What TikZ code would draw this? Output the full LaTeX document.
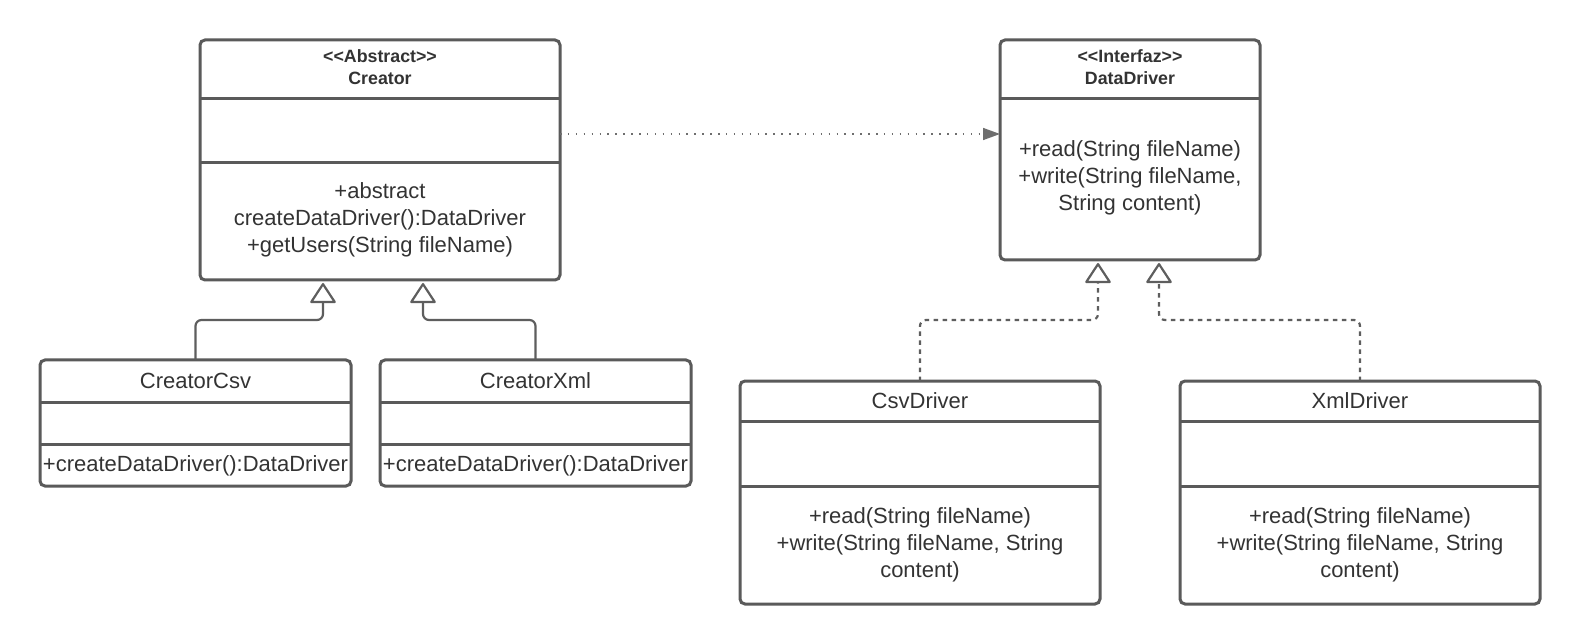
\documentclass[tikz,border=0pt]{standalone}
\usepackage{fontspec}
\setmainfont{Liberation Sans}
\usetikzlibrary{arrows.meta}
\definecolor{boxline}{HTML}{5A5A5A}
\definecolor{txt}{HTML}{333333}
\definecolor{conn}{HTML}{5E5E5E}
\definecolor{dotc}{HTML}{6E6E6E}
\begin{document}
\begin{tikzpicture}[x=1pt,y=-1pt,
  umlbox/.style={rectangle, draw=boxline, line width=3pt, rounded corners=5pt, inner sep=0pt, outer sep=0pt},
  sepline/.style={draw=boxline, line width=3pt},
  hdr/.style={font=\bfseries\fontsize{17.8}{22}\selectfont, text=txt, align=center, inner sep=0pt},
  body/.style={font=\fontsize{22}{27}\selectfont, text=txt, align=center, inner sep=0pt},
  gen/.style={draw=conn, line width=2.2pt, rounded corners=6pt, -{Triangle[open, length=21pt, width=27pt, round]}},
  realz/.style={gen, dash pattern=on 4.5pt off 4.5pt},
  dep/.style={draw=dotc, line width=1.5pt, dash pattern=on 1.5pt off 6.4pt, -{Triangle[length=17pt, width=12pt]}}
]
\fill[white] (0,0) rectangle (1580,644);
\useasboundingbox (0,0) rectangle (1580,644);

% boxes
\node[umlbox, minimum width=360pt, minimum height=240pt] (creator) at (380,160) {};
\node[umlbox, minimum width=260pt, minimum height=220pt] (dd) at (1130,150) {};
\node[umlbox, minimum width=311pt, minimum height=126pt] (ccsv) at (195.5,423) {};
\node[umlbox, minimum width=311pt, minimum height=126pt] (cxml) at (535.5,423) {};
\node[umlbox, minimum width=360pt, minimum height=223pt] (dcsv) at (920,492.5) {};
\node[umlbox, minimum width=360pt, minimum height=223pt] (dxml) at (1360,492.5) {};

% compartment lines
\draw[sepline] (creator.west |- 0,99) -- (creator.east |- 0,99);
\draw[sepline] (creator.west |- 0,163) -- (creator.east |- 0,163);
\draw[sepline] (dd.west |- 0,99) -- (dd.east |- 0,99);
\draw[sepline] (ccsv.west |- 0,402) -- (ccsv.east |- 0,402);
\draw[sepline] (ccsv.west |- 0,444) -- (ccsv.east |- 0,444);
\draw[sepline] (cxml.west |- 0,402) -- (cxml.east |- 0,402);
\draw[sepline] (cxml.west |- 0,444) -- (cxml.east |- 0,444);
\draw[sepline] (dcsv.west |- 0,421) -- (dcsv.east |- 0,421);
\draw[sepline] (dcsv.west |- 0,486) -- (dcsv.east |- 0,486);
\draw[sepline] (dxml.west |- 0,421) -- (dxml.east |- 0,421);
\draw[sepline] (dxml.west |- 0,486) -- (dxml.east |- 0,486);

% texts
\node[hdr] (crh) at (380,67) {<{}<Abstract>{}>\\Creator};
\node[body] (crm) at (380,220) {+abstract\\createDataDriver():DataDriver\\+getUsers(String fileName)};
\node[hdr] (ddh) at (1130,67) {<{}<Interfaz>{}>\\DataDriver};
\node[body] (ddm) at (1130,178) {+read(String fileName)\\+write(String fileName,\\String content)};
\node[body] (ccn) at (195.5,381) {CreatorCsv};
\node[body] (ccm) at (195.5,466) {+createDataDriver():DataDriver};
\node[body] (cxn) at (535.5,381) {CreatorXml};
\node[body] (cxm) at (535.5,466) {+createDataDriver():DataDriver};
\node[body] (dcn) at (920,401) {CsvDriver};
\node[body] (dcm) at (920,545) {+read(String fileName)\\+write(String fileName, String\\content)};
\node[body] (dxn) at (1360,401) {XmlDriver};
\node[body] (dxm) at (1360,545) {+read(String fileName)\\+write(String fileName, String\\content)};

% connector end points
\coordinate (g1) at (323,283);
\coordinate (g2) at (423,283);
\coordinate (r1) at (1098,263);
\coordinate (r2) at (1159,263);

% connectors
\draw[dep] (creator.east |- 0,134) -- (dd.west |- 0,134);
\draw[gen] (ccsv.north) |- (323,320) -- (g1);
\draw[gen] (cxml.north) |- (423,320) -- (g2);
\draw[realz] (dcsv.north) |- (1098,320) -- (r1);
\draw[realz] (dxml.north) |- (1159,320) -- (r2);
\end{tikzpicture}
\end{document}
